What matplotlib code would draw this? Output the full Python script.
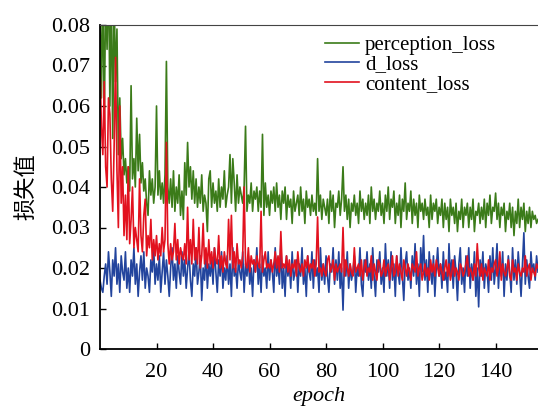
import numpy as np
import matplotlib
matplotlib.use('Agg')
from matplotlib import pyplot as plt
from matplotlib.ticker import FuncFormatter

# values, in units of 1e-3, two per epoch
perception_loss = [85, 62, 92, 55, 88, 74, 95, 60, 90, 52,
                   88, 66, 79, 48, 62, 47, 52, 43, 47, 41,
                   45, 39, 65, 42, 47, 40, 57, 44, 53, 41,
                   46, 39, 42, 36, 33, 44, 38, 42, 36, 40,
                   60, 38, 44, 37, 41, 36, 43, 71, 40, 36,
                   42, 35, 44, 34, 40, 36, 43, 33, 39, 32,
                   46, 38, 51, 40, 45, 37, 44, 36, 42, 35,
                   40, 36, 43, 34, 38, 36, 29, 42, 44, 35,
                   41, 36, 39, 34, 42, 35, 40, 37, 44, 35,
                   38, 40, 48, 36, 47, 41, 34, 43, 36, 40,
                   38, 36, 40, 55, 34, 38, 36, 41, 34, 39,
                   37, 40, 34, 39, 35, 53, 33, 41, 35, 38,
                   33, 39, 36, 40, 34, 41, 35, 38, 32, 39,
                   36, 40, 32, 38, 35, 37, 31, 39, 34, 36,
                   38, 33, 40, 34, 37, 31, 39, 35, 37, 33,
                   38, 34, 36, 33, 47, 34, 38, 32, 37, 35,
                   33, 37, 31, 39, 34, 38, 30, 36, 35, 39,
                   33, 37, 45, 34, 38, 32, 37, 30, 36, 34,
                   38, 33, 36, 31, 39, 34, 37, 32, 36, 33,
                   38, 31, 40, 34, 37, 32, 36, 34, 39, 33,
                   36, 31, 38, 34, 40, 32, 37, 35, 39, 31,
                   36, 33, 38, 30, 37, 34, 41, 32, 36, 34,
                   39, 31, 37, 33, 36, 30, 38, 34, 36, 32,
                   37, 33, 35, 30, 38, 32, 36, 34, 37, 31,
                   35, 33, 37, 30, 36, 32, 35, 29, 37, 33,
                   35, 31, 36, 29, 34, 32, 37, 30, 35, 33,
                   36, 30, 35, 32, 37, 29, 34, 33, 36, 31,
                   35, 32, 37, 30, 36, 33, 38, 31, 35, 34,
                   38.5, 32, 36, 30, 35, 33, 36, 29, 34, 32,
                   36, 30, 35, 28, 34, 31, 37, 30, 35, 32,
                   36, 29, 34, 31, 35, 30, 34, 32, 33, 31,
                   32]
d_loss = [17, 15, 14, 18, 21, 16, 24, 19, 13, 22,
          18, 25, 16, 21, 14, 23, 19, 17, 24, 15,
          20, 14, 22, 18, 25, 16, 21, 13, 19, 23,
          17, 24, 15, 20, 18, 14, 22, 19, 25, 16,
          21, 17, 23, 14, 19, 24, 16, 22, 18, 13,
          20, 25, 17, 21, 15, 23, 19, 16, 24, 18,
          22, 15, 20, 24, 17, 13, 21, 18, 25, 16,
          19, 23, 12, 20, 17, 24, 15, 21, 18, 22,
          16, 25, 19, 14, 22, 18, 24, 15, 20, 17,
          23, 16, 21, 13, 25, 18, 20, 15, 22, 19,
          17, 24, 14, 21, 18, 23, 16, 20, 13, 22,
          19, 25, 16, 21, 14, 23, 18, 20, 15, 24,
          17, 22, 19, 14, 25, 18, 21, 16, 26, 15,
          20, 13, 23, 18, 21, 15, 24, 17, 19, 22,
          14, 21, 18, 25, 16, 20, 13, 23, 19, 17,
          24, 15, 22, 18, 20, 14, 25, 17, 21, 16,
          23, 18, 14, 21, 19, 25, 16, 22, 17, 24,
          15, 20, 9.6, 22, 18, 24, 15, 21, 17, 19,
          23, 14, 20, 18, 25, 16, 13, 22, 19, 24,
          17, 21, 15, 25, 18, 13, 22, 19, 24, 16,
          20, 14, 26, 18, 22, 15, 24, 17, 21, 13,
          23, 19, 16, 25, 18, 12, 21, 24, 17, 20,
          15, 23, 18, 26, 16, 21, 13, 25, 19, 28,
          17, 22, 14, 24, 19, 16, 23, 13, 20, 25,
          18, 21, 15, 24, 17, 19, 14, 26, 18, 22,
          15, 23, 19, 12, 21, 25, 16, 20, 14, 23,
          18, 25, 15, 21, 17, 24, 13, 20, 10.4, 22,
          18, 24, 15, 21, 19, 14, 23, 17, 25, 16,
          20, 26, 15, 22, 18, 24, 13, 21, 17, 23,
          19, 14, 25, 17, 22, 16, 24, 19, 13, 21,
          28.7, 16, 22, 18, 15, 24, 19, 21, 17, 23,
          19]
content_loss = [70, 55, 48, 66, 45, 40, 62, 58, 42, 34,
                50, 72, 44, 30, 60, 36, 45, 28, 38, 27,
                45, 26, 32, 40, 25, 30, 27, 24, 42, 28,
                24, 33, 37, 23, 28, 25, 32, 22, 27, 23,
                28, 22, 26, 23, 30, 24, 27, 51, 26, 21,
                26, 22, 24, 31, 22, 27, 21, 25, 23, 22,
                26, 21, 35, 22, 27, 21, 32, 22, 25, 21,
                30, 20, 23, 31, 21, 25, 20, 27, 21, 24,
                20, 25, 22, 21, 28, 20, 23, 19, 24, 21,
                20, 32, 22, 33, 20, 24, 19, 26, 21, 22,
                20, 23, 40, 21, 20, 25, 19, 23, 21, 22,
                19, 23, 21, 20, 34, 19, 22, 24, 20, 21,
                20, 22, 19, 21, 24, 20, 23, 19, 29, 20,
                21, 20, 23, 19, 22, 18, 21, 20, 22, 18,
                24, 20, 19, 21, 18, 22, 20, 23, 19, 21,
                20, 22, 18, 21, 32.6, 19, 20, 18, 21, 19,
                18, 22, 23, 19, 20, 22, 17, 21, 19, 20,
                21, 19, 30, 18, 22, 20, 18, 21, 19, 18,
                25, 19, 20, 21, 18, 22, 17, 20, 22, 18,
                20, 19, 23, 17, 21, 19, 17, 22, 21, 18,
                19, 22, 18, 20, 21, 17, 20, 23, 18, 19,
                23, 18, 21, 19, 17, 22, 20, 18, 21, 19,
                17, 21, 20, 19, 24, 18, 20, 21, 17, 19,
                21, 18, 20, 17, 22, 19, 21, 18, 22, 20,
                18, 21, 19, 17, 20, 22, 18, 21, 17, 19,
                22, 18, 20, 19, 17, 21, 20, 18, 19, 21,
                23, 18, 20, 19, 17, 21, 18, 26, 20, 18,
                21, 17, 20, 19, 18, 22, 17, 20, 19, 21,
                22, 18, 20, 24, 17, 21, 19, 18, 20, 22,
                18, 17, 22, 19, 20, 17, 21, 19, 18, 20,
                19, 23, 18, 20, 21, 17, 20, 19, 18, 21,
                20]
epoch = np.arange(len(perception_loss)) / 2

plt.rcParams['font.family'] = ['Liberation Serif', 'Noto Sans CJK SC']

fig = plt.figure(figsize=(5.38, 4.09), dpi=100)
ax = fig.add_axes([100/538, 60/409, 438/538, 324/409])

ax.plot(epoch, np.array(perception_loss) / 1000, color='#3b7b19', lw=1.2, label='perception_loss')
ax.plot(epoch, np.array(d_loss) / 1000, color='#22449d', lw=1.2, label='d_loss')
ax.plot(epoch, np.array(content_loss) / 1000, color='#e2121f', lw=1.2, label='content_loss')

ax.set_xlim(0, 155)
ax.set_ylim(0, 0.08)
ax.set_xticks([20, 40, 60, 80, 100, 120, 140])
ax.set_yticks(np.arange(0, 0.081, 0.01))
ax.yaxis.set_major_formatter(FuncFormatter(lambda v, p: '0' if v == 0 else '%.2f' % v))
ax.tick_params(direction='in', length=4, width=1, labelsize=16)
ax.tick_params(axis='y', pad=7)
ax.tick_params(axis='x', pad=10)
ax.spines['right'].set_visible(False)
ax.spines['left'].set_linewidth(1.3)
ax.spines['bottom'].set_linewidth(1.3)
ax.spines['top'].set_color('#444444')

ax.set_xlabel('epoch', fontsize=16, style='italic', labelpad=4)
ax.set_ylabel('损失值', fontsize=16, family='Noto Sans CJK SC', labelpad=10)

ax.legend(loc='upper left', bbox_to_anchor=(315/538, 1 - 25/409), bbox_transform=fig.transFigure,
          frameon=False, fontsize=15, borderpad=0, labelspacing=0.0,
          handlelength=1.6, handletextpad=0.3)

fig.savefig('out.png', dpi=100)
